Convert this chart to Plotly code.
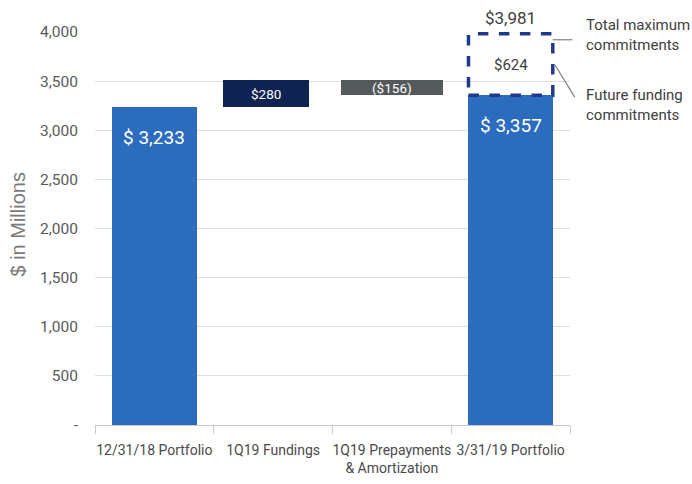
import plotly.graph_objects as go

# Portfolio roll-forward, $ in millions
categories = [
    "12/31/18 Portfolio",
    "1Q19 Fundings",
    "1Q19 Prepayments<br>& Amortization",
    "3/31/19 Portfolio",
]
start_portfolio = 3233
fundings = 280
prepayments = -156
end_portfolio = 3357
future_funding = 624
total_commitments = 3981

y_ticks = [0, 500, 1000, 1500, 2000, 2500, 3000, 3500, 4000]
y_tick_text = ["-", "500", "1,000", "1,500", "2,000", "2,500", "3,000", "3,500", "4,000"]

bar_labels = ["$ 3,233", "$280", "($156)", "$ 3,357"]

# waterfall geometry derived from the values
bases = [0, start_portfolio, start_portfolio + fundings + prepayments, 0]
heights = [start_portfolio, fundings, -prepayments, end_portfolio]
colors = ["#2b6cbf", "#0f2252", "#54595b", "#2b6cbf"]
widths = [0.71, 0.73, 0.86, 0.71]
shifts = [0.0, -0.06, 0.0, 0.0]
offsets = [-w / 2 + s for w, s in zip(widths, shifts)]

COND = "Roboto, Liberation Sans, sans-serif"

fig = go.Figure()
fig.add_trace(go.Bar(
    x=categories,
    y=heights,
    base=bases,
    width=widths,
    offset=offsets,
    marker=dict(color=colors, line=dict(width=0)),
    hoverinfo="skip",
    showlegend=False,
))

annotations = []
# big portfolio labels near the bar tops
for i in (0, 3):
    annotations.append(dict(
        x=i + shifts[i], y=bases[i] + heights[i], xref="x", yref="y",
        text=bar_labels[i], showarrow=False, yshift=-30,
        font=dict(family=COND, size=19, color="white"),
    ))
# change labels centred in the floating bars
for i in (1, 2):
    annotations.append(dict(
        x=i + shifts[i], y=bases[i] + heights[i] / 2, xref="x", yref="y",
        text=bar_labels[i], showarrow=False,
        font=dict(family=COND, size=13.5, color="white"),
    ))

# future funding box and totals
last = 3
box_x0 = last - widths[last] / 2
box_x1 = last + widths[last] / 2
annotations.append(dict(
    x=last, y=end_portfolio + future_funding / 2, xref="x", yref="y",
    text="$624", showarrow=False,
    font=dict(family=COND, size=15, color="#404040"),
))
annotations.append(dict(
    x=last, y=total_commitments, xref="x", yref="y",
    text="$3,981", showarrow=False, yanchor="bottom", yshift=4,
    font=dict(family=COND, size=17, color="#404040"),
))

# callout text on the right
annotations.append(dict(
    x=1.030, y=0.992, xref="paper", yref="paper",
    text="Total maximum<br>commitments", showarrow=False,
    xanchor="left", yanchor="middle", align="left",
    font=dict(family=COND, size=15, color="#404040"),
))
annotations.append(dict(
    x=1.030, y=0.814, xref="paper", yref="paper",
    text="Future funding<br>commitments", showarrow=False,
    xanchor="left", yanchor="middle", align="left",
    font=dict(family=COND, size=15, color="#404040"),
))

# axis title
annotations.append(dict(
    x=-0.163, y=0.509, xref="paper", yref="paper",
    text="$ in Millions", showarrow=False, textangle=-90,
    xanchor="center", yanchor="middle",
    font=dict(family="Liberation Sans, Arial, sans-serif", size=20, color="#7a7a7a"),
))

shapes = [
    dict(
        type="rect", xref="x", yref="y",
        x0=box_x0, x1=box_x1, y0=end_portfolio, y1=total_commitments,
        line=dict(color="#1f3a8a", width=3.5, dash="dash"),
        fillcolor="rgba(0,0,0,0)", layer="above",
    ),
    # leader lines to the callouts
    dict(
        type="line", xref="paper", yref="y",
        x0=(box_x1 + 0.5) / 4, x1=1.005,
        y0=total_commitments - 60, y1=total_commitments - 60,
        line=dict(color="#7f7f7f", width=1.2),
    ),
    dict(
        type="line", xref="paper", yref="y",
        x0=(box_x1 + 0.5) / 4 + 0.004, x1=1.01,
        y0=end_portfolio + future_funding * 0.5, y1=end_portfolio - 20,
        line=dict(color="#7f7f7f", width=1.2),
    ),
]

fig.update_layout(
    width=692,
    height=484,
    margin=dict(l=95, r=122, t=32, b=59),
    plot_bgcolor="white",
    paper_bgcolor="white",
    bargap=0,
    annotations=annotations,
    shapes=shapes,
    xaxis=dict(
        type="category",
        range=[-0.5, 3.5],
        automargin=False,
        showgrid=False,
        showline=True,
        linecolor="#c8c8c8",
        linewidth=1,
        ticks="outside",
        tickson="boundaries",
        ticklen=8,
        tickcolor="#c8c8c8",
        tickangle=0,
        ticklabelstandoff=12,
        tickfont=dict(family=COND, size=14, color="#4a4a4a"),
        fixedrange=True,
    ),
    yaxis=dict(
        range=[0, 4000],
        automargin=False,
        tickvals=y_ticks,
        ticktext=y_tick_text,
        showgrid=True,
        gridcolor="#dedede",
        gridwidth=1,
        zeroline=False,
        showline=False,
        ticks="",
        ticklabelstandoff=16,
        tickfont=dict(family=COND, size=15.5, color="#595959"),
        fixedrange=True,
    ),
)

fig.write_html("out.html")
